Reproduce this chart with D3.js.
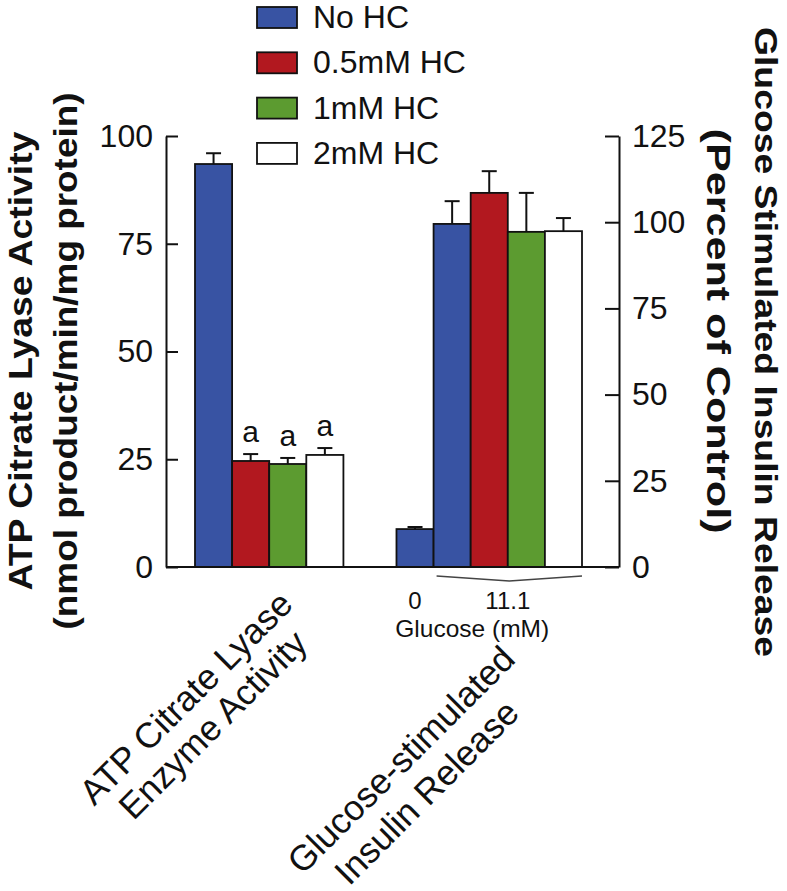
<!DOCTYPE html>
<html>
<head>
<meta charset="utf-8">
<script src="https://cdn.jsdelivr.net/npm/d3@7/dist/d3.min.js"></script>
<style>
  html, body { margin: 0; padding: 0; background: #fff; }
  svg { display: block; font-family: "Liberation Sans", Arial, Helvetica, sans-serif; }
</style>
</head>
<body>
<svg id="chart" width="787" height="891"></svg>
<script>
// ---------------- data ----------------
const seriesNames = ["No HC", "0.5mM HC", "1mM HC", "2mM HC"];
const seriesColors = ["#3853a3", "#b2181f", "#5c9b30", "#ffffff"];

const categoryLines = [
  ["ATP Citrate Lyase", "Enzyme Activity"],
  ["Glucose-stimulated", "Insulin Release"]
];

// ATP citrate lyase activity (left axis, nmol product/min/mg protein)
const aclValues = [93.5, 24.6, 23.9, 26.0];
const aclErrors = [2.5, 1.6, 1.4, 1.6];
const aclSignif = ["", "a", "a", "a"];

// Glucose-stimulated insulin release (right axis, percent of control)
const basalValues = [11.0];          // 0 mM glucose, No HC
const basalErrors = [0.6];
const gsirValues = [99.5, 108.5, 97.2, 97.4];  // 11.1 mM glucose
const gsirErrors = [6.6, 6.3, 11.3, 3.8];

const glucoseLabels = ["0", "11.1"];
const glucoseTitle = "Glucose (mM)";

const leftTicks = [0, 25, 50, 75, 100];
const rightTicks = [0, 25, 50, 75, 100, 125];

const leftTitle = ["ATP Citrate Lyase Activity", "(nmol product/min/mg protein)"];
const rightTitle = ["Glucose Stimulated Insulin Release", "(Percent of Control)"];

// ---------------- layout ----------------
const svg = d3.select("#chart");
const axisLeftX = 166, axisRightX = 619;
const yTop = 136, yBase = 567;
const groupGap = 1.43;                 // gap between groups in bar-slot units
const group2Start = 4 + groupGap;
const totalSlots = group2Start + 5;

const x = d3.scaleLinear().domain([0, totalSlots]).range([195, 582]);
const yL = d3.scaleLinear().domain([0, 100]).range([yBase, yTop]);
const yR = d3.scaleLinear().domain([0, 125]).range([yBase, yTop]);

const bars = [];
aclValues.forEach((v, i) => bars.push({slot: i, s: i, v, e: aclErrors[i], y: yL, lab: aclSignif[i]}));
basalValues.forEach((v, i) => bars.push({slot: group2Start + i, s: 0, v, e: basalErrors[i], y: yR, lab: ""}));
gsirValues.forEach((v, i) => bars.push({slot: group2Start + 1 + i, s: i, v, e: gsirErrors[i], y: yR, lab: ""}));

// bars
svg.append("g").selectAll("rect").data(bars).join("rect")
  .attr("x", d => x(d.slot))
  .attr("y", d => d.y(d.v))
  .attr("width", d => x(d.slot + 1) - x(d.slot))
  .attr("height", d => yBase - d.y(d.v))
  .attr("fill", d => seriesColors[d.s])
  .attr("stroke", "#111")
  .attr("stroke-width", 1.8);

// error bars (upper only)
const eg = svg.append("g").attr("stroke", "#111").attr("stroke-width", 2);
bars.forEach(d => {
  const cx = (x(d.slot) + x(d.slot + 1)) / 2;
  eg.append("line").attr("x1", cx).attr("x2", cx).attr("y1", d.y(d.v)).attr("y2", d.y(d.v + d.e));
  eg.append("line").attr("x1", cx - 7.5).attr("x2", cx + 7.5).attr("y1", d.y(d.v + d.e)).attr("y2", d.y(d.v + d.e));
});

// significance letters
svg.append("g").selectAll("text").data(bars.filter(d => d.lab)).join("text")
  .attr("x", d => (x(d.slot) + x(d.slot + 1)) / 2)
  .attr("y", d => d.y(d.v + d.e) - 12)
  .attr("text-anchor", "middle")
  .attr("font-size", 30)
  .attr("fill", "#111")
  .text(d => d.lab);

// axes
const axL = svg.append("g").attr("transform", `translate(${axisLeftX},0)`)
  .call(d3.axisLeft(yL).tickValues(leftTicks).tickSize(-12).tickSizeOuter(0).tickPadding(13));
const axR = svg.append("g").attr("transform", `translate(${axisRightX},0)`)
  .call(d3.axisRight(yR).tickValues(rightTicks).tickSize(-14).tickSizeOuter(0).tickPadding(13));
[axL, axR].forEach(a => {
  a.selectAll("path, line").attr("stroke", "#111").attr("stroke-width", 2);
  a.selectAll("text").attr("font-size", 32).attr("fill", "#111")
    .attr("font-family", "'Liberation Sans', Arial, sans-serif");
});

// baseline
svg.append("line").attr("x1", axisLeftX).attr("x2", axisRightX)
  .attr("y1", yBase).attr("y2", yBase).attr("stroke", "#111").attr("stroke-width", 2);

// bracket under 11.1 mM bars
const bx0 = x(group2Start + 1) + 3, bx1 = x(group2Start + 5);
svg.append("path")
  .attr("d", d3.line()([[bx0, yBase + 9], [(bx0 + bx1) / 2, yBase + 14], [bx1, yBase + 9]]))
  .attr("fill", "none").attr("stroke", "#444").attr("stroke-width", 1.3);

// glucose labels
const glucoseX = [
  (x(group2Start) + x(group2Start + 1)) / 2,
  (x(group2Start + 1) + x(group2Start + 5)) / 2
];
svg.append("g").selectAll("text").data(glucoseLabels).join("text")
  .attr("x", (d, i) => glucoseX[i]).attr("y", 609)
  .attr("text-anchor", "middle").attr("font-size", 24).attr("fill", "#111")
  .text(d => d);
svg.append("text").attr("x", (x(group2Start) + x(group2Start + 5)) / 2 - 17).attr("y", 637)
  .attr("text-anchor", "middle").attr("font-size", 24.5).attr("fill", "#111")
  .text(glucoseTitle);

// category labels (rotated -45)
const catCenters = [[208, 720], [422, 785]];
const catOffsets = [[[0, -19], [0, 19]], [[3, -20.5], [-2, 20.5]]];
categoryLines.forEach((lines, ci) => {
  const t = svg.append("text")
    .attr("transform", `translate(${catCenters[ci][0]},${catCenters[ci][1]}) rotate(-45)`)
    .attr("text-anchor", "middle").attr("font-size", 35.5).attr("fill", "#111");
  lines.forEach((ln, li) => {
    t.append("tspan").attr("x", catOffsets[ci][li][0]).attr("y", catOffsets[ci][li][1]).text(ln);
  });
});

// left title
const lt = svg.append("g").attr("transform", "translate(0,361) rotate(-90)");
lt.append("text").attr("x", 0).attr("y", 32).attr("text-anchor", "middle")
  .attr("font-size", 34).attr("font-weight", "bold").attr("fill", "#111")
  .attr("textLength", 459).attr("lengthAdjust", "spacingAndGlyphs").text(leftTitle[0]);
lt.append("text").attr("x", 0).attr("y", 77).attr("text-anchor", "middle")
  .attr("font-size", 34).attr("font-weight", "bold").attr("fill", "#111")
  .attr("textLength", 537).attr("lengthAdjust", "spacingAndGlyphs").text(leftTitle[1]);

// right title
svg.append("text").attr("transform", "translate(755,342) rotate(90)")
  .attr("text-anchor", "middle").attr("font-size", 32).attr("font-weight", "bold").attr("fill", "#111")
  .attr("textLength", 630).attr("lengthAdjust", "spacingAndGlyphs").text(rightTitle[0]);
svg.append("text").attr("transform", "translate(707,331) rotate(90)")
  .attr("text-anchor", "middle").attr("font-size", 34).attr("font-weight", "bold").attr("fill", "#111")
  .attr("textLength", 405).attr("lengthAdjust", "spacingAndGlyphs").text(rightTitle[1]);

// legend
const lg = svg.append("g").attr("transform", "translate(257,7)");
const rowH = 45.3;
seriesNames.forEach((name, i) => {
  const row = lg.append("g").attr("transform", `translate(0,${i * rowH})`);
  row.append("rect").attr("width", 40).attr("height", 21)
    .attr("fill", seriesColors[i]).attr("stroke", "#111").attr("stroke-width", 1.8);
  row.append("text").attr("x", 56).attr("y", 21).attr("font-size", 32).attr("fill", "#111").text(name);
});
</script>
</body>
</html>
